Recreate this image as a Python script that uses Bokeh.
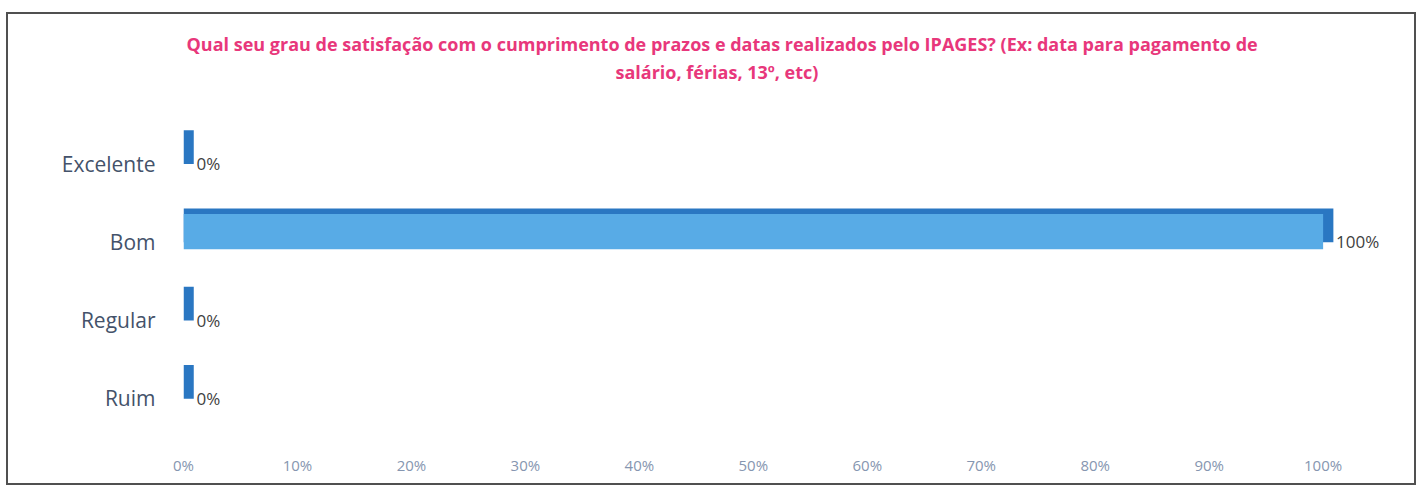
from bokeh.plotting import figure
from bokeh.models import ColumnDataSource, FactorRange, Range1d, FixedTicker, NumeralTickFormatter, Title
from bokeh.transform import dodge
from bokeh.embed import file_html
from bokeh.resources import INLINE
from bokeh.core.properties import value

# ---- data ----
categories = ["Ruim", "Regular", "Bom", "Excelente"]
percent = [0.0, 0.0, 1.0, 0.0]
value_labels = ["0%", "0%", "100%", "0%"]
tick_values = [0.0, 0.1, 0.2, 0.3, 0.4, 0.5, 0.6, 0.7, 0.8, 0.9, 1.0]
title_line1 = "Qual seu grau de satisfação com o cumprimento de prazos e datas realizados pelo IPAGES? (Ex: data para pagamento de"
title_line2 = "salário, férias, 13º, etc)"

# ---- style ----
FONT = "Open Sans"
FRONT = "#58abe6"
DARK = "#2a77c2"
TITLE_COLOR = "#e8377b"
DEPTH_X = 0.009

src = ColumnDataSource(dict(
    cat=categories,
    val=percent,
    depth_right=[v + DEPTH_X for v in percent],
    label=value_labels,
))

p = figure(
    width=1410, height=473,
    y_range=FactorRange(factors=categories, range_padding=0),
    x_range=Range1d(0, 1.06),
    output_backend="svg", toolbar_location=None,
    min_border_left=175, min_border_right=27,
    min_border_top=110, min_border_bottom=50,
)
p.margin = (12, 0, 0, 6)
p.styles = {"border": "2px solid #505050"}
p.background_fill_color = "white"
p.border_fill_color = "white"
p.outline_line_color = None
p.xgrid.grid_line_color = None
p.ygrid.grid_line_color = None

# 3D depth (top + side faces)
p.hbar(y=dodge("cat", 0.21, range=p.y_range), left=0, right="depth_right", height=0.43,
       source=src, fill_color=DARK, line_color=None)
# front face
p.hbar(y=dodge("cat", 0.13, range=p.y_range), left=0, right="val", height=0.45,
       source=src, fill_color=FRONT, line_color=None)

p.text(x="val", y="cat", text="label", source=src, x_offset=13,
       text_align="left", text_baseline="middle",
       text_font=value(FONT), text_font_size="17px", text_color="#3f3f3f")

# axes
for ax in (p.xaxis, p.yaxis):
    ax.axis_line_color = None
    ax.major_tick_line_color = None
    ax.minor_tick_line_color = None
    ax.major_tick_out = 0
    ax.major_tick_in = 0
    ax.major_label_text_font = FONT

p.yaxis.major_label_standoff = 28
p.yaxis.major_label_text_font_size = "21px"
p.yaxis.major_label_text_color = "#44526a"

p.xaxis.ticker = FixedTicker(ticks=tick_values)
p.xaxis.formatter = NumeralTickFormatter(format="0%")
p.xaxis.major_label_standoff = 17
p.xaxis.major_label_text_font_size = "15px"
p.xaxis.major_label_text_color = "#8696b0"

# title (two lines) + spacer between title and plot area
spacer = Title(text=" ", text_font_size="1px", standoff=37)
t2 = Title(text=title_line2, align="left", offset=432, text_font=FONT,
           text_font_size="18px", text_font_style="bold", text_color=TITLE_COLOR, standoff=2)
t1 = Title(text=title_line1, align="left", offset=3, text_font=FONT,
           text_font_size="18px", text_font_style="bold", text_color=TITLE_COLOR, standoff=2)
p.add_layout(spacer, "above")
p.add_layout(t2, "above")
p.add_layout(t1, "above")

open("out.html", "w").write(file_html(p, INLINE))
